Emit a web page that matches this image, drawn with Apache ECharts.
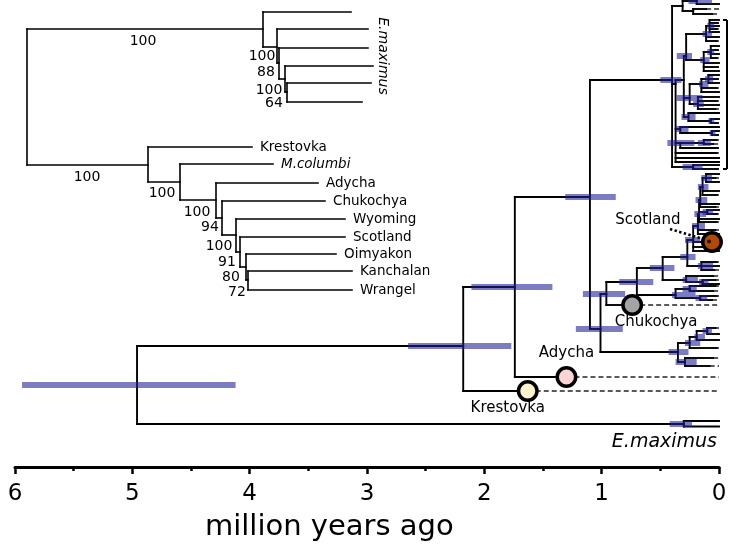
<!DOCTYPE html>
<html><head><meta charset="utf-8">
<script src="https://cdn.jsdelivr.net/npm/echarts/dist/echarts.min.js"></script>
<style>html,body{margin:0;padding:0;background:#fff}#c{width:730px;height:544px}</style>
</head><body><div id="c"></div>
<script>
// ---------- MAIN TIME TREE: [id, parent, age (Myr), row, hpdLow, hpdHigh] ----------
const backbone = [
 ['root','',4.96,385,4.12,5.94],
 ['mam','root',2.18,346,1.77,2.65],
 ['kre','mam',1.63,391],
 ['a1','mam',1.74,287,1.42,2.11],
 ['ady','a1',1.30,377],
 ['b1','a1',1.10,197,0.88,1.31],
 ['d1','b1',1.01,329,0.82,1.22],
 ['d2','d1',0.96,294,0.80,1.16],
 ['chu','d2',0.74,305],
 ['d3','d2',0.70,282,0.56,0.85],
 ['d4','d3',0.48,268,0.38,0.59],
 ['c1','b1',0.40,80,0.32,0.50]
];
const maximusClade = [
 ['emx','root',0.30,424,0.23,0.42],
 ['emx1','emx',0,421],
 ['emx2','emx',0,426.5]
];
const wyomingClade = [
 ['w','d1',0.35,352,0.26,0.43],
 ['w1','w',0.25,343,0.16,0.29],
 ['w1a','w1',0.19,337,0.12,0.21],
 ['w1b','w1a',0.10,331,0.06,0.14],
 ['wt1','w1b',0.03,328],['wt2','w1b',0,334],
 ['wt3','w1a',0,340],['wt4','w1',0.02,348],
 ['w2','w',0.29,362,0.19,0.37],
 ['wt5','w2',0.05,358],['wt6','w2',0.08,366]
];
const lowerClade = [
 ['d5','d3',0.37,295,0.20,0.40],
 ['d5a','d5',0.25,289,0.19,0.31],
 ['d5t1','d5a',0.03,286],['d5t2','d5a',0.05,291],
 ['d5b','d5',0.16,298,0.10,0.20],
 ['d5t3','d5b',0.02,296],['d5t4','d5b',0.06,300],
 ['f','d4',0.28,280,0.18,0.31],
 ['ft1','f',0.05,276],
 ['f1','f',0.14,282,0.09,0.17],
 ['ft2','f1',0.03,280],['ft3','f1',0,284]
];
const scotlandClade = [
 ['s','d4',0.27,257,0.20,0.33],
 ['s1','s',0.22,240,0.16,0.29],
 ['s2','s',0.15,266,0.05,0.18],
 ['st1','s2',0.02,262],['st2','s2',0,266],['st3','s2',0.04,270],
 ['sco','s1',0.06,242],
 ['st4','s1',0.01,247],['st5','s1',0,251],
 ['s3','s1',0.18,226,0.12,0.23],
 ['st6','s3',0.03,230],['st7','s3',0,234],
 ['s4','s3',0.17,214,0.11,0.21],
 ['st8','s4',0,219],['st9','s4',0.02,222],
 ['s4c','s4',0.10,212,0.05,0.14],
 ['st10','s4c',0,210],['st11','s4c',0.02,214],
 ['s5','s4',0.16,200,0.10,0.20],
 ['st12','s5',0,204],['st13','s5',0.03,207],
 ['s6','s5',0.14,187,0.09,0.18],
 ['st14','s6',0,191],['st15','s6',0.02,195],
 ['s7','s6',0.11,178,0.06,0.15],
 ['st16','s7',0,174],['st17','s7',0.03,178],['st18','s7',0,182]
];
const topClade = [
 ['t','c1',0.31,6],
 ['t1','t',0.19,1,0.06,0.26],
 ['tt1','t1',0,-1],['tt2','t1',0,4],
 ['t2','t',0.22,11],
 ['tt3','t2',0.11,9],['tt4','t2',0.06,14],
 ['c2','c1',0.37,84],
 ['c3','c2',0.30,80],
 ['p','c3',0.28,56,0.23,0.36],
 ['pa','p',0.11,34,0.06,0.14],
 ['pa1','pa',0.08,26,0.04,0.10],
 ['pt1','pa1',0,20],['pt2','pa1',0.01,23],['pt3','pa1',0,26],['pt4','pa1',0.02,29],['pt5','pa1',0,32],
 ['pt6','pa',0,37],['pt7','pa',0.02,41],
 ['pc','p',0.13,60,0.08,0.16],
 ['pc1','pc',0.07,52,0.04,0.10],
 ['pt8','pc1',0,46],['pt9','pc1',0.01,50],['pt10','pc1',0,54],['pt11','pc1',0.02,58],
 ['pt12','pc',0,63],['pt13','pc',0.01,67],['pt14','pc',0,71],
 ['h','c3',0.25,98,0.14,0.36],
 ['pb','h',0.15,84,0.09,0.17],
 ['pb1','pb',0.09,79,0.05,0.12],
 ['pt15','pb1',0,75],['pt16','pb1',0.01,79],['pt17','pb1',0,83],
 ['pt18','pb',0.02,88],['pt19','pb',0,92],
 ['h1','h',0.18,104,0.13,0.22],
 ['ht1','h1',0,97],['ht2','h1',0.02,101],['ht3','h1',0,105],['ht4','h1',0.03,109],
 ['j','c3',0.26,117,0.20,0.32],
 ['jt1','j',0,113],['j1','j',0.07,121,0.04,0.09],['jt2','j1',0,119],['jt3','j1',0.01,123],
 ['k','c2',0.33,129,0.26,0.37],
 ['kt1','k',0,127],['k1','k',0.06,133,0.03,0.08],['kt2','k1',0,131],['kt3','k1',0.01,135],
 ['l','c2',0.33,143,0.21,0.44],
 ['l1','l',0.13,143,0.07,0.18],['lt1','l1',0.02,140],['lt2','l1',0.05,144],['lt3','l',0.01,148],
 ['lt4','c2',0.02,153],['ct1','c2',0,158],['ct2','c2',0,162],
 ['q','c1',0.22,167,0.14,0.31],
 ['qt1','q',0,165],['qt2','q',0.01,169]
];
// ancient samples marked with circles
const ancientIds = ['kre','ady','chu','sco'];
const ancientNames = ['Krestovka','Adycha','Chukochya','Scotland'];
const bracketIds = ['pt1','qt2'];

// ---------- INSET ML TREE: [id, parent, cumulative branch length, row, tip label] ----------
const insetMaximus = [
 ['r','',0,97,''],
 ['e0','r',0.236,29,''],['e1','e0',0.250,47,''],['e2','e1',0.252,63,''],['e3','e2',0.258,79,''],['e4','e3',0.260,92,''],
 ['x1','e0',0.324,12,''],['x2','e1',0.341,29,''],['x3','e2',0.341,48,''],
 ['x4','e3',0.346,66,''],['x5','e4',0.344,83,''],['x6','e4',0.335,102,'']
];
const insetMammoth = [
 ['n0','r',0.121,165,''],
 ['kr','n0',0.225,147,'Krestovka'],
 ['n1','n0',0.153,182,''],
 ['mc','n1',0.246,164,'M.columbi'],
 ['n2','n1',0.189,200,''],
 ['ad','n2',0.291,183,'Adycha'],
 ['n3','n2',0.195,218,''],
 ['ch','n3',0.298,201,'Chukochya'],
 ['n4','n3',0.209,235,''],
 ['wy','n4',0.318,219,'Wyoming'],
 ['n5','n4',0.213,252,''],
 ['sc','n5',0.318,237,'Scotland'],
 ['n6','n5',0.219,267,''],
 ['oi','n6',0.309,254,'Oimyakon'],
 ['n7','n6',0.221,280,''],
 ['ka','n7',0.325,271,'Kanchalan'],
 ['wr','n7',0.325,290,'Wrangel']
];
const italicTips = ['M.columbi'];
const supportValues = [100,100,100,100,94,100,91,80,72,100,88,100,64];
const supportPos    = [0.116,0.060,0.135,0.170,0.183,0.192,0.200,0.204,0.210,0.235,0.239,0.242,0.247];
const supportRow    = [41,177,193,212,227,246,262,277,292,56,72,90,103];
const insetCladeLabel = ['E.maximus', 0.356, 56];

// x-axis ticks
const axisMin = 0, axisMax = 6, axisStep = 1;

// ---------- build ----------
const FONT = 'DejaVu Sans';
function build(list){
  const map = {}, order = [];
  list.forEach(r => { const n = {id:r[0], parent:r[1], age:r[2], row:r[3], lo:r[4], hi:r[5], kids:[]}; map[r[0]] = n; order.push(n); });
  order.forEach(n => { if (n.parent && map[n.parent]) map[n.parent].kids.push(n); });
  return {map, order};
}
const mainTree = build([].concat(backbone, maximusClade, wyomingClade, lowerClade, scotlandClade, topClade));
const branchSegs = [], hpdBars = [], tipDashes = [];
mainTree.order.forEach(n => {
  if (n.parent) { const p = mainTree.map[n.parent]; branchSegs.push([p.age, n.row, n.age, n.row]); }
  if (n.kids.length) { const rows = n.kids.map(k => k.row); rows.push(n.row); branchSegs.push([n.age, Math.min(...rows), n.age, Math.max(...rows)]); }
  if (n.lo !== undefined) hpdBars.push([n.lo, n.row, n.hi]);
  if (!n.kids.length && n.age > 0) tipDashes.push([n.age, n.row, 0, n.row]);
});
const ancientPts = ancientIds.map((id, i) => [mainTree.map[id].age, mainTree.map[id].row, i]);

const insetList = [].concat(insetMaximus, insetMammoth);
const insetMap = {};
insetList.forEach(r => insetMap[r[0]] = {id:r[0], parent:r[1], len:r[2], row:r[3], name:r[4], kids:[]});
insetList.forEach(r => { if (r[1]) insetMap[r[1]].kids.push(insetMap[r[0]]); });
const insetSegs = [], insetTips = [];
Object.values(insetMap).forEach(n => {
  if (n.parent) { const p = insetMap[n.parent]; insetSegs.push([p.len, n.row, n.len, n.row]); }
  if (n.kids.length) { const rows = n.kids.map(k => k.row); insetSegs.push([n.len, Math.min(...rows), n.len, Math.max(...rows)]); }
  if (n.name) insetTips.push([n.len, n.row, n.name]);
});
const supportData = supportValues.map((v, i) => [supportPos[i], supportRow[i], v]);

// ---------- styles ----------
const circleFill = {Krestovka:'#fdf3cc', Adycha:'#ffd4d4', Chukochya:'#a4a4a4', Scotland:'#b24a00'};
const labelOffset = {Krestovka:[-20,17], Adycha:[0,-24], Chukochya:[24,17], Scotland:[-64,-22]};

function segSeries(data, style, xi, z){
  return {type:'custom', xAxisIndex:xi, yAxisIndex:0, data, clip:false, silent:true, z:z,
    encode:{x:[0,2], y:[1,3]},
    renderItem:(params, api) => {
      const a = api.coord([api.value(0), api.value(1)]), b = api.coord([api.value(2), api.value(3)]);
      return {type:'line', shape:{x1:a[0], y1:a[1], x2:b[0], y2:b[1]}, style:Object.assign({}, style)};
    }};
}

const series = [
  segSeries(tipDashes, {stroke:'#5a5a5a', lineWidth:2, lineDash:[5,3]}, 0, 1),
  segSeries(branchSegs, {stroke:'#000', lineWidth:1.9, lineCap:'square'}, 0, 2),
  {type:'custom', xAxisIndex:0, yAxisIndex:0, data:hpdBars, clip:false, silent:true, z:3,
   encode:{x:[0,2], y:1},
   renderItem:(params, api) => {
     const a = api.coord([api.value(0), api.value(1)]), b = api.coord([api.value(2), api.value(1)]);
     return {type:'rect', shape:{x:Math.min(a[0],b[0]), y:a[1]-3, width:Math.abs(a[0]-b[0]), height:6},
             style:{fill:'rgba(30,30,150,0.58)'}};
   }},
  // bracket around the top clade
  {type:'custom', xAxisIndex:0, yAxisIndex:0, data:[[0, mainTree.map[bracketIds[0]].row, 0, mainTree.map[bracketIds[1]].row]],
   clip:false, silent:true, z:2, encode:{x:[0,2], y:[1,3]},
   renderItem:(params, api) => {
     const a = api.coord([api.value(0), api.value(1)]), b = api.coord([api.value(2), api.value(3)]);
     const bx = a[0] + 8, st = {stroke:'#000', lineWidth:2};
     return {type:'group', children:[
       {type:'line', shape:{x1:bx, y1:a[1], x2:bx, y2:b[1]}, style:st},
       {type:'line', shape:{x1:bx-4, y1:a[1], x2:bx, y2:a[1]}, style:st},
       {type:'line', shape:{x1:bx-4, y1:b[1], x2:bx, y2:b[1]}, style:st}]};
   }},
  // Scotland leader
  {type:'custom', xAxisIndex:0, yAxisIndex:0, data:[ancientPts[3]], clip:false, silent:true, z:4,
   encode:{x:0, y:1},
   renderItem:(params, api) => {
     const p = api.coord([api.value(0), api.value(1)]);
     return {type:'line', shape:{x1:p[0]-42, y1:p[1]-13, x2:p[0]-12, y2:p[1]-4},
             style:{stroke:'#000', lineWidth:2.6, lineDash:[2.4,2.4]}};
   }},
  {type:'scatter', xAxisIndex:0, yAxisIndex:0, data:ancientPts, symbol:'circle', symbolSize:18.5, z:5, silent:true,
   itemStyle:{borderColor:'#000', borderWidth:3.5, opacity:1,
     color:(p) => circleFill[ancientNames[p.data[2]]]}},
  {type:'scatter', xAxisIndex:0, yAxisIndex:0, data:[[ancientPts[3][0]+0.025, ancientPts[3][1]-0.5]], symbolSize:4, z:6, silent:true,
   itemStyle:{color:'#000'}},
  // labels of ancient samples
  {type:'custom', xAxisIndex:0, yAxisIndex:0, data:ancientPts, clip:false, silent:true, z:7, encode:{x:0, y:1},
   renderItem:(params, api) => {
     const p = api.coord([api.value(0), api.value(1)]); const nm = ancientNames[api.value(2)];
     const o = labelOffset[nm];
     return {type:'text', x:p[0]+o[0], y:p[1]+o[1],
             style:{text:nm, fontFamily:FONT, fontSize:15, fill:'#000', align:'center', verticalAlign:'middle'}};
   }},
  // E.maximus label on main tree
  {type:'custom', xAxisIndex:0, yAxisIndex:0, data:[[0, mainTree.map['emx'].row]], clip:false, silent:true, z:7, encode:{x:0, y:1},
   renderItem:(params, api) => {
     const p = api.coord([api.value(0), api.value(1)]);
     return {type:'text', x:p[0]-2, y:p[1]+18,
             style:{text:'E.maximus', fontFamily:FONT, fontStyle:'italic', fontSize:19, fill:'#000', align:'right', verticalAlign:'middle'}};
   }},
  // inset tree
  segSeries(insetSegs, {stroke:'#000', lineWidth:1.6, lineCap:'square'}, 1, 2),
  {type:'custom', xAxisIndex:1, yAxisIndex:0, data:insetTips, clip:false, silent:true, z:7, encode:{x:0, y:1},
   renderItem:(params, api) => {
     const p = api.coord([api.value(0), api.value(1)]); const nm = insetTips[params.dataIndex][2];
     return {type:'text', x:p[0]+8, y:p[1],
             style:{text:nm, fontFamily:FONT, fontSize:13.5, fontStyle:italicTips.includes(nm)?'italic':'normal',
                    fill:'#000', align:'left', verticalAlign:'middle'}};
   }},
  {type:'custom', xAxisIndex:1, yAxisIndex:0, data:supportData, clip:false, silent:true, z:7, encode:{x:0, y:1},
   renderItem:(params, api) => {
     const p = api.coord([api.value(0), api.value(1)]);
     return {type:'text', x:p[0], y:p[1],
             style:{text:String(api.value(2)), fontFamily:FONT, fontSize:14, fill:'#000', align:'center', verticalAlign:'middle'}};
   }},
  {type:'custom', xAxisIndex:1, yAxisIndex:0, data:[[insetCladeLabel[1], insetCladeLabel[2]]], clip:false, silent:true, z:7, encode:{x:0, y:1},
   renderItem:(params, api) => {
     const p = api.coord([api.value(0), api.value(1)]);
     return {type:'text', x:p[0], y:p[1], rotation:-Math.PI/2,
             style:{text:insetCladeLabel[0], fontFamily:FONT, fontStyle:'italic', fontSize:14, fill:'#000', align:'center', verticalAlign:'middle'}};
   }}
];

const chart = echarts.init(document.getElementById('c'), null, {renderer:'canvas'});
chart.setOption({
  animation:false,
  backgroundColor:'#fff',
  grid:{left:15, right:11, top:0, bottom:77, containLabel:false},
  xAxis:[
    {type:'value', inverse:true, min:axisMin, max:axisMax, interval:axisStep, position:'bottom',
     axisLine:{onZero:false, lineStyle:{color:'#000', width:3}},
     axisTick:{length:7, lineStyle:{color:'#000', width:2.5}},
     minorTick:{show:true, splitNumber:2, length:4, lineStyle:{color:'#000', width:2.5}},
     axisLabel:{color:'#000', fontSize:23, fontFamily:FONT, margin:16},
     splitLine:{show:false}, minorSplitLine:{show:false}},
    {type:'value', min:-0.012, max:0.692, show:false}
  ],
  yAxis:[{type:'value', inverse:true, min:0, max:467, show:false}],
  graphic:[{type:'text', x:205, y:527, silent:true,
    style:{text:'million years ago', fontFamily:FONT, fontSize:29, fill:'#000', align:'left', verticalAlign:'middle'}}],
  series
});
</script></body></html>
